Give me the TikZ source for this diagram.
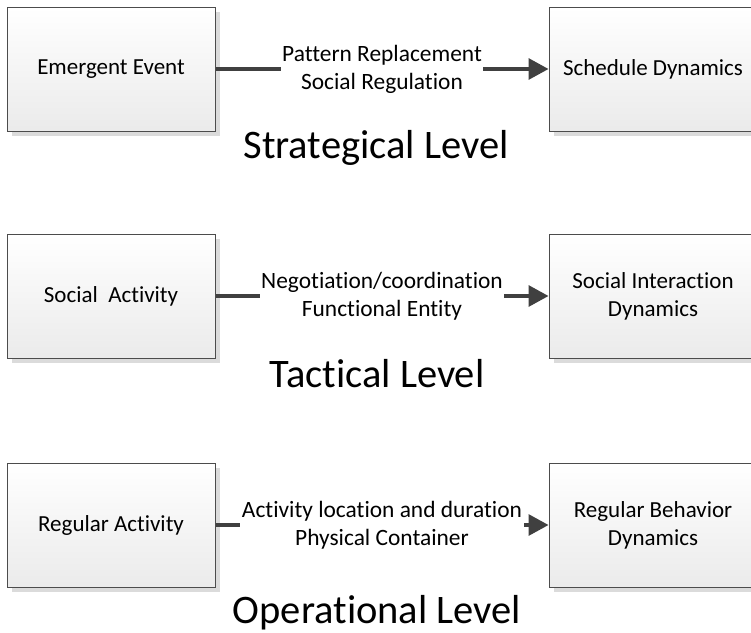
\documentclass[tikz,border=0pt]{standalone}
\usepackage{fontspec}
\setmainfont{Carlito}[Ligatures=NoCommon]
\usetikzlibrary{arrows.meta,shadows}
\tikzset{
  box/.style={draw=black!70, line width=1pt, minimum width=208pt, minimum height=124pt,
    top color=white, bottom color=black!8, align=center, inner sep=2pt,
    font=\fontsize{23}{28}\selectfont,
    drop shadow={shadow xshift=5pt, shadow yshift=-5pt, fill=black!14, opacity=1}},
  arr/.style={draw=black!75, line width=3.2pt, -{Triangle[length=20pt,width=21pt]}},
  lbl/.style={fill=white, align=center, inner xsep=1.5pt, inner ysep=0pt,
    font=\fontsize{23.4}{28}\selectfont},
  lvl/.style={anchor=base, font=\fontsize{40.5}{48}\selectfont}
}
\begin{document}
\begin{tikzpicture}[x=1pt,y=-1pt]
\path[fill=white, use as bounding box] (0,0) rectangle (751,632);
% row 1
\node[box] (e1) at (111,69) {Emergent Event};
\node[box] (s1) at (653,69) {Schedule Dynamics};
\draw[arr] (e1) -- node[lbl] {Pattern Replacement\\Social Regulation} (s1);
\node[lvl] (t1) at (376,158) {Strategical Level};
% row 2
\node[box] (e2) at (111,296) {Social\ \ Activity};
\node[box] (s2) at (653,296) {Social Interaction\\Dynamics};
\draw[arr] (e2) -- node[lbl] {Negotiation/coordination\\Functional Entity} (s2);
\node[lvl] (t2) at (377,387) {Tactical Level};
% row 3
\node[box] (e3) at (111,525) {Regular Activity};
\node[box] (s3) at (653,525) {Regular Behavior\\Dynamics};
\draw[arr] (e3) -- node[lbl] {Activity location and duration\\Physical Container} (s3);
\node[lvl] (t3) at (377,623) {Operational Level};
\end{tikzpicture}
\end{document}
